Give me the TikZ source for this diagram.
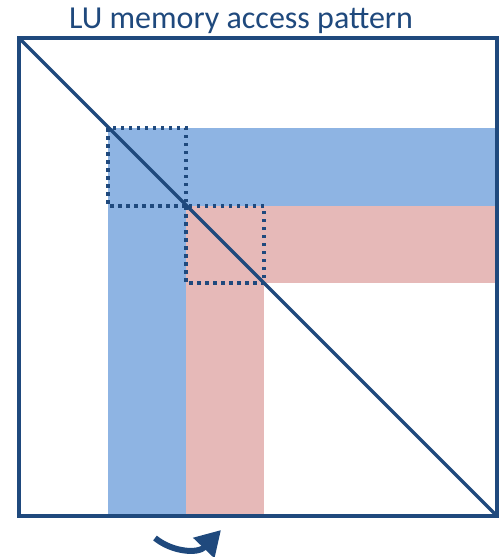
\documentclass[tikz,border=0pt]{standalone}
\usepackage{fontspec}
\setmainfont{Carlito}
\usetikzlibrary{arrows.meta}
\definecolor{navy}{HTML}{1F497D}
\definecolor{bluefill}{HTML}{8EB4E3}
\definecolor{pinkfill}{HTML}{E6B9B8}
\tikzset{
  frame/.style={draw=navy, line width=3.5pt},
  dotbox/.style={draw=navy, line width=3.5pt, dash pattern=on 3.5pt off 4.5pt},
  bluepanel/.style={fill=bluefill, draw=none},
  pinkpanel/.style={fill=pinkfill, draw=none},
  turnarrow/.style={draw=navy, line width=6pt, -{Triangle[length=25pt,width=28pt]}}
}
\begin{document}
\begin{tikzpicture}[x=1pt,y=-1pt]
\useasboundingbox (0,0) rectangle (499,557);
\node[text=navy, font=\fontsize{32}{36}\selectfont, anchor=base] (title) at (241,28) {LU memory access pattern};
% panels
\fill[bluepanel] (108,128) rectangle (498,206);
\fill[bluepanel] (108,128) rectangle (186,515);
\fill[pinkpanel] (186,206) rectangle (497,283);
\fill[pinkpanel] (186,206) rectangle (264,515);
% frame and diagonal
\coordinate (tl) at (19,38);
\coordinate (br) at (497,516);
\draw[frame] (tl) rectangle (br);
\draw[frame] (tl) -- (br);
% dotted blocks
\draw[dotbox] (108,128) rectangle (186,206);
\draw[dotbox] (186,206) rectangle (264,283);
% curved arrow
\coordinate (as) at (155,538);
\coordinate (ae) at (221,530);
\draw[turnarrow] (as) .. controls (172,552) and (198,554) .. (ae);
\end{tikzpicture}
\end{document}
